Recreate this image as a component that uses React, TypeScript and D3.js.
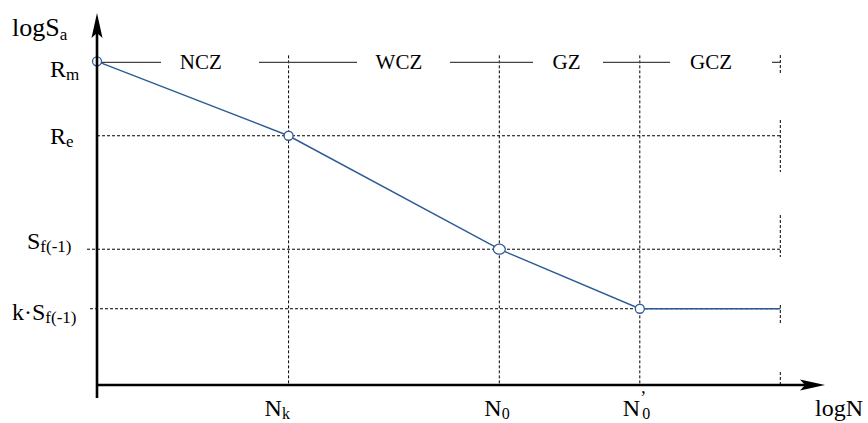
import React from 'react';
import * as d3 from 'd3';

// characteristic logN positions (arbitrary units)
const xNames = ['Nk', 'N0', "N'0"];
const xValues = [3.0, 6.3, 8.5];
const xEnd = 10.7;

// logSa levels
const yNames = ['Rm', 'Re', 'Sf', 'kSf'];
const yValues = [8.7, 6.7, 3.65, 2.05];

// S-N curve: logN and logSa of each knot
const curveN = [0, 3.0, 6.3, 8.5, 10.7];
const curveS = [8.7, 6.7, 3.65, 2.05, 2.05];

// zone names along the top
const zones = ['NCZ', 'WCZ', 'GZ', 'GCZ'];

const W = 868, H = 423;
const FONT = "'Liberation Serif', 'DejaVu Serif', serif";
const BLUE = '#2d5b96';

export default function App() {
  const x = d3.scaleLinear().domain([0, 11.4]).range([97, 825]);
  const y = d3.scaleLinear().domain([0, 10]).range([385, 13]);

  const pts: [number, number][] = curveN.map((n, i) => [n, curveS[i]]);
  const line = d3.line<[number, number]>()
    .x(d => x(d[0]))
    .y(d => y(d[1]));

  const yRm = y(yValues[0]);
  const xEndPx = x(xEnd);

  // zone label strip, with gaps around the words
  const bounds = [0, ...xValues, xEnd];
  const zoneShift = [8, 5, -3, 1];
  const stripY = yRm + 1;
  const stripSegs = [[100, 161], [259, 357], [450, 533], [603, 670], [772, 780]];

  // the right-most boundary is only partly drawn
  const endSegs = [[55, 75], [120, 172], [215, 257], [305, 325], [372, 385]];
  const hStart = [97, 87, 90];

  const dash = '3,2';

  return (
    <svg width={W} height={H} style={{ position: 'absolute', left: 0, top: 0, background: '#fff', fontFamily: FONT }}>
      {/* horizontal guide lines */}
      {yValues.slice(1).map((v, i) => (
        <line key={'h' + i} x1={hStart[i]} x2={xEndPx}
          y1={y(v)} y2={y(v)} stroke="#000" strokeWidth={1} strokeDasharray={dash} />
      ))}
      {/* vertical guide lines */}
      {xValues.map((v, i) => (
        <line key={'v' + i} x1={x(v)} x2={x(v)} y1={yRm - 6} y2={y(0)}
          stroke="#000" strokeWidth={1} strokeDasharray={dash} />
      ))}
      {endSegs.map((s, i) => (
        <line key={'e' + i} x1={xEndPx} x2={xEndPx} y1={s[0]} y2={s[1]}
          stroke="#000" strokeWidth={1} strokeDasharray={dash} />
      ))}

      {/* zone strip */}
      {stripSegs.map((s, i) => (
        <line key={'s' + i} x1={s[0]} x2={s[1]} y1={stripY} y2={stripY} stroke="#444" strokeWidth={1.3} />
      ))}
      {zones.map((z, i) => (
        <text key={z} x={(x(bounds[i]) + x(bounds[i + 1])) / 2 + zoneShift[i]} y={stripY + 7}
          textAnchor="middle" fontSize={21}>{z}</text>
      ))}

      {/* curve */}
      <path d={line(pts) || ''} fill="none" stroke={BLUE} strokeWidth={1.4} />
      {pts.slice(0, 4).map((p, i) => (
        <ellipse key={'c' + i} cx={x(p[0])} cy={y(p[1])} rx={i === 2 ? 6 : 4.5} ry={i === 2 ? 5 : 4.5}
          fill="#fff" stroke={BLUE} strokeWidth={1.3} />
      ))}

      {/* axes */}
      <line x1={97} x2={97} y1={398} y2={30} stroke="#000" strokeWidth={2.6} />
      <path d="M97,13 L91.5,38 L97,33 L102.5,38 Z" fill="#000" />
      <line x1={96} x2={810} y1={385} y2={385} stroke="#000" strokeWidth={2.6} />
      <path d="M825,385 L800,379.5 L805,385 L800,390.5 Z" fill="#000" />

      {/* y labels */}
      <text x={12} y={36} fontSize={26}>logS<tspan fontSize={17} dy={4}>a</tspan></text>
      <text x={50} y={77} fontSize={24}>R<tspan fontSize={17} dy={3}>m</tspan></text>
      <text x={50} y={y(yValues[1]) + 8} fontSize={24}>R<tspan fontSize={17} dy={3}>e</tspan></text>
      <text x={27} y={y(yValues[2])} fontSize={24}>S<tspan fontSize={17} dy={3}>f(-1)</tspan></text>
      <text x={12} y={y(yValues[3]) + 11} fontSize={24}>k·S<tspan fontSize={17} dy={3}>f(-1)</tspan></text>

      {/* x labels */}
      <text x={x(xValues[0]) - 24} y={416} fontSize={24}>N<tspan fontSize={16} dy={3}>k</tspan></text>
      <text x={x(xValues[1]) - 15} y={416} fontSize={24}>N<tspan fontSize={16} dy={3}>0</tspan></text>
      <text x={x(xValues[2]) - 17} y={416} fontSize={24}>N<tspan fontSize={18} dy={-12}>’</tspan><tspan fontSize={16} dx={-4} dy={15}>0</tspan></text>
      <text x={815} y={416} fontSize={24}>logN</text>
    </svg>
  );
}
